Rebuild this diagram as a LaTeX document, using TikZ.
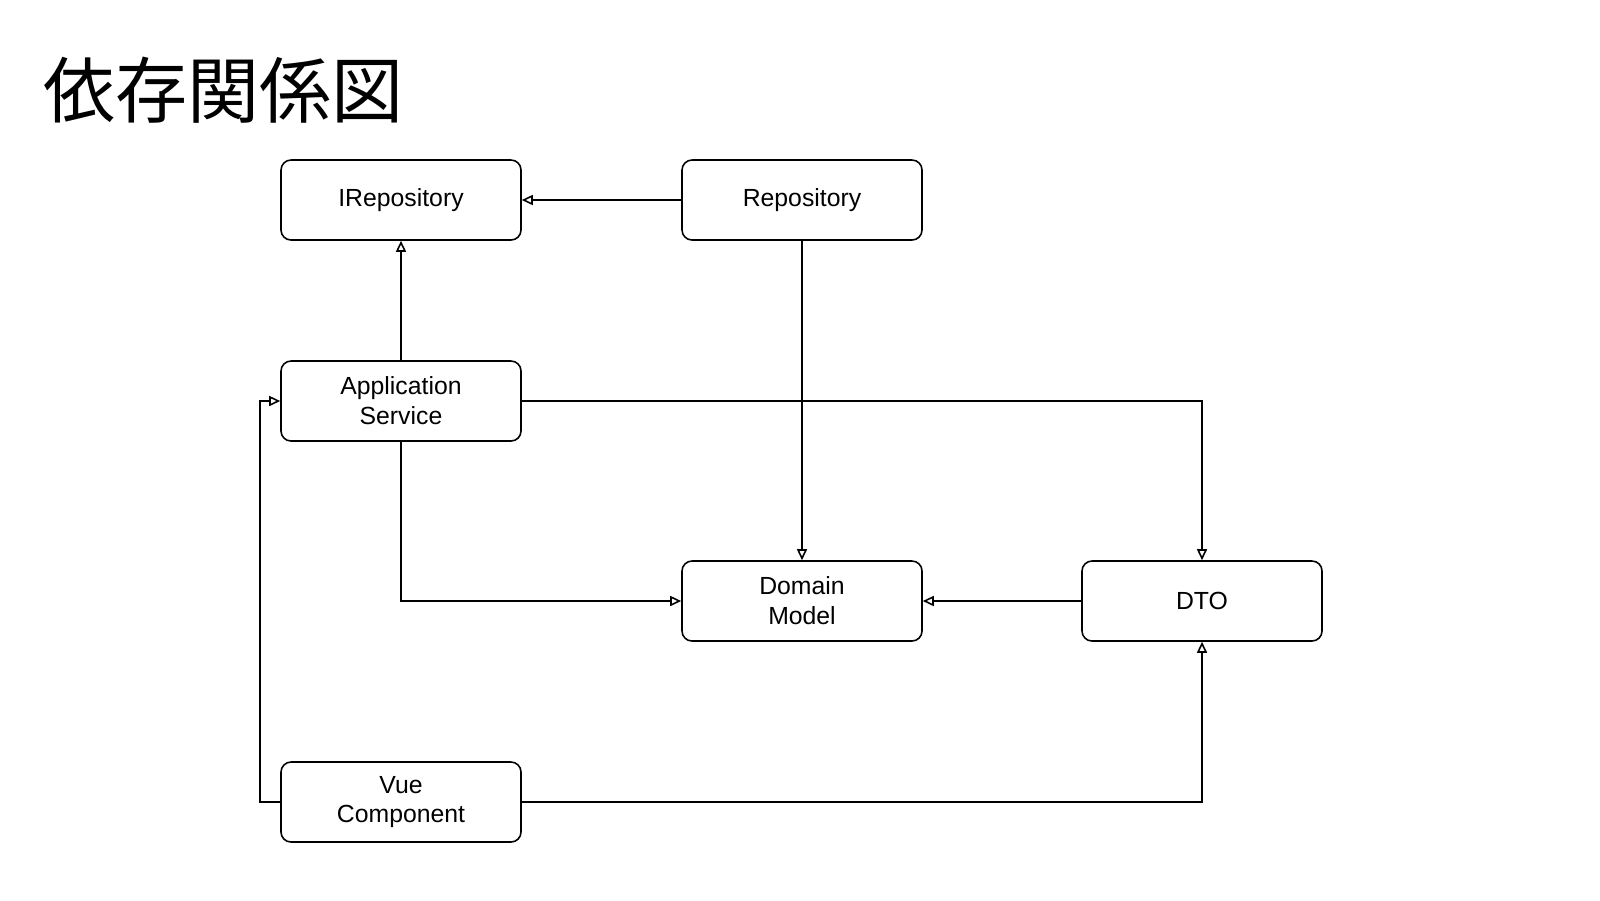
\documentclass[tikz,border=0pt]{standalone}
\usepackage{fontspec}
\setmainfont{Liberation Sans}
\newfontfamily\cjk{Noto Sans CJK JP}
\usetikzlibrary{arrows.meta}

\tikzset{
	classbox/.style={draw, rounded corners=1mm, line width=0.45pt, minimum width=2.4cm, minimum height=0.8cm, align=center, font=\fontsize{7.05}{8.5}\selectfont, inner sep=0pt},
	dep/.style={line width=0.45pt, -{Triangle[open, length=1.1mm, width=1mm]}}
}

\begin{document}
\begin{tikzpicture}
	\useasboundingbox (0,0) rectangle (16,-9);
	
	% title
	\node[anchor=west, inner sep=0pt, font=\cjk\fontsize{20.5}{24}\selectfont] (title) at (0.43,-0.9) {依存関係図};
	
	% classes
	\node[classbox] (irepo) at (4.01,-2.0) {IRepository};
	\node[classbox] (repo) at (8.02,-2.0) {Repository};
	\node[classbox] (app) at (4.01,-4.01) {Application\\Service};
	\node[classbox] (domain) at (8.02,-6.01) {Domain\\Model};
	\node[classbox] (dto) at (12.02,-6.01) {DTO};
	\node[classbox] (vue) at (4.01,-8.02) {Vue\\Component};
	
	% dependencies
	\draw[dep] (repo) -- (irepo);
	\draw[dep] (app) -- (irepo);
	\draw[dep] (repo) -- (domain);
	\draw[dep] (app.east) -| (dto.north);
	\draw[dep] (app.south) |- (domain.west);
	\draw[dep] (dto) -- (domain);
	\draw[dep] (vue.east) -| (dto.south);
	\draw[dep] (vue.west) -- ++(-0.2,0) |- (app.west);
\end{tikzpicture}
\end{document}
